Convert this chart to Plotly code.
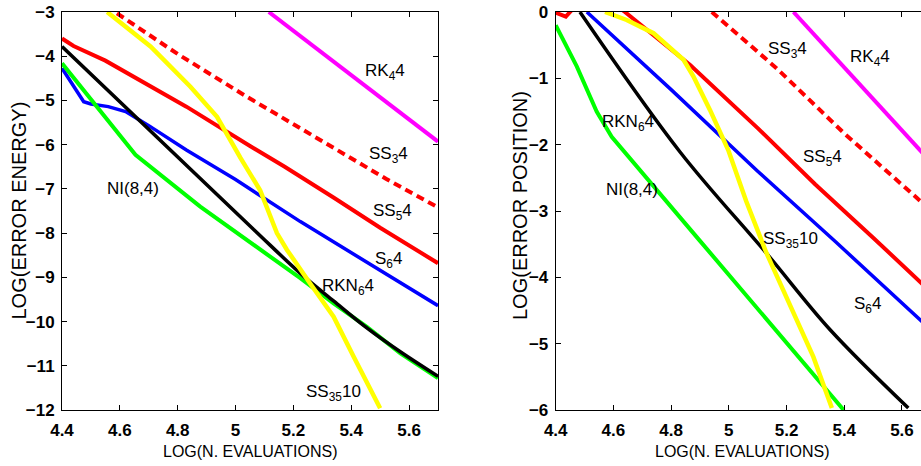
import plotly.graph_objects as go

# ---------------- data: left panel (energy error) ----------------
rk4_e_x = [5.115, 5.7]
rk4_e_y = [-3.0, -5.93]
ss3_e_x = [4.59, 4.8, 5.04, 5.3, 5.52, 5.7]
ss3_e_y = [-3.03, -3.95, -4.92, -5.93, -6.77, -7.42]
ss5_e_x = [4.4, 4.44, 4.55, 4.67, 4.83, 5.05, 5.17, 5.34, 5.5, 5.7]
ss5_e_y = [-3.6, -3.77, -4.1, -4.55, -5.14, -6.03, -6.5, -7.2, -7.88, -8.68]
s6_e_x = [4.4, 4.435, 4.475, 4.5, 4.56, 4.62, 4.7, 4.83, 5.0, 5.224, 5.454, 5.7]
s6_e_y = [-4.27, -4.61, -5.03, -5.08, -5.14, -5.25, -5.57, -6.12, -6.79, -7.74, -8.65, -9.64]
ni_e_x = [4.4, 4.654, 4.878, 4.97, 5.108, 5.224, 5.339, 5.454, 5.57, 5.7]
ni_e_y = [-4.16, -6.23, -7.4, -7.83, -8.46, -9.02, -9.59, -10.12, -10.72, -11.28]
rkn_e_x = [4.4, 5.06, 5.224, 5.34, 5.455, 5.571, 5.7]
rkn_e_y = [-3.78, -7.9, -8.91, -9.54, -10.15, -10.69, -11.24]
ss35_e_x = [4.556, 4.706, 4.844, 4.936, 5.017, 5.085, 5.143, 5.178, 5.258, 5.339, 5.409, 5.5]
ss35_e_y = [-3.0, -3.78, -4.69, -5.37, -6.3, -7.03, -8.0, -8.38, -9.14, -9.89, -10.8, -11.96]

# ---------------- data: right panel (position error) ----------------
rk4_p_x = [5.224, 5.7]
rk4_p_y = [0.0, -2.26]
ss3_p_x = [4.941, 5.166, 5.4, 5.7]
ss3_p_y = [0.0, -0.85, -1.83, -2.99]
ss5_p_x = [4.4, 4.435, 4.46, 4.55, 4.64, 4.866, 5.1, 5.3, 5.502, 5.7]
ss5_p_y = [-0.01, -0.07, 0.05, 0.3, 0.0, -0.8, -1.75, -2.6, -3.41, -4.22]
s6_p_x = [4.508, 4.8, 5.1, 5.369, 5.7]
s6_p_y = [0.0, -1.17, -2.4, -3.46, -4.79]
ni_p_x = [4.4, 4.473, 4.542, 4.594, 4.9, 5.108, 5.398]
ni_p_y = [-0.2, -0.82, -1.5, -1.88, -3.45, -4.52, -6.0]
rkn_p_x = [4.484, 4.831, 5.131, 5.351, 5.622]
rkn_p_y = [0.0, -2.11, -3.64, -4.79, -5.97]
ss35_p_x = [4.571, 4.646, 4.739, 4.843, 4.877, 4.935, 4.998, 5.06, 5.131, 5.212, 5.293, 5.357]
ss35_p_y = [0.0, -0.12, -0.32, -0.72, -0.97, -1.48, -2.08, -2.85, -3.64, -4.44, -5.2, -5.97]

# ---------------- labels ----------------
left_labels = ["RK<sub>4</sub>4", "SS<sub>3</sub>4", "SS<sub>5</sub>4", "NI(8,4)", "S<sub>6</sub>4", "RKN<sub>6</sub>4", "SS<sub>35</sub>10"]
left_lab_x = [5.518, 5.528, 5.542, 4.646, 5.528, 5.39, 5.338]
left_lab_y = [-4.36, -6.23, -7.52, -6.98, -8.61, -9.22, -11.62]
right_labels = ["SS<sub>3</sub>4", "RK<sub>4</sub>4", "RKN<sub>6</sub>4", "SS<sub>5</sub>4", "NI(8,4)", "SS<sub>35</sub>10", "S<sub>6</sub>4"]
right_lab_x = [5.205, 5.489, 4.651, 5.323, 4.664, 5.212, 5.482]
right_lab_y = [-0.57, -0.69, -1.67, -2.2, -2.68, -3.44, -4.42]

x_title = "LOG(N. EVALUATIONS)"
y_title_left = "LOG(ERROR ENERGY)"
y_title_right = "LOG(ERROR POSITION)"

FONT = "Liberation Sans, Arial, Helvetica, sans-serif"

fig = go.Figure()

def add(xs, ys, color, width, xa, ya, dash=None, shape="linear"):
    fig.add_trace(go.Scatter(x=xs, y=ys, mode="lines", xaxis=xa, yaxis=ya,
                             line=dict(color=color, width=width, dash=dash, shape=shape),
                             showlegend=False, hoverinfo="skip"))

for xa, ya, d in [("x", "y", [
        (rk4_e_x, rk4_e_y, "#FF00FF", 4, None, "linear"),
        (ss3_e_x, ss3_e_y, "#FF0000", 4, "8px,5px", "linear"),
        (ss5_e_x, ss5_e_y, "#FF0000", 4, None, "linear"),
        (s6_e_x, s6_e_y, "#0000FF", 3.5, None, "linear"),
        (ni_e_x, ni_e_y, "#00FF00", 4, None, "linear"),
        (rkn_e_x, rkn_e_y, "#000000", 3.5, None, "spline"),
        (ss35_e_x, ss35_e_y, "#FFFF00", 4.5, None, "linear")]),
    ("x2", "y2", [
        (rk4_p_x, rk4_p_y, "#FF00FF", 4, None, "linear"),
        (ss3_p_x, ss3_p_y, "#FF0000", 4, "8px,5px", "linear"),
        (ss5_p_x, ss5_p_y, "#FF0000", 4, None, "linear"),
        (s6_p_x, s6_p_y, "#0000FF", 3.5, None, "linear"),
        (ni_p_x, ni_p_y, "#00FF00", 4, None, "linear"),
        (rkn_p_x, rkn_p_y, "#000000", 3.5, None, "spline"),
        (ss35_p_x, ss35_p_y, "#FFFF00", 4.5, None, "linear")])]:
    for xs, ys, c, w, dsh, shp in d:
        add(xs, ys, c, w, xa, ya, dsh, shp)

annos = []
for t, x, y in zip(left_labels, left_lab_x, left_lab_y):
    annos.append(dict(text=t, x=x, y=y, xref="x", yref="y", showarrow=False,
                      xanchor="center", yanchor="middle",
                      font=dict(family=FONT, size=17, color="black")))
for t, x, y in zip(right_labels, right_lab_x, right_lab_y):
    annos.append(dict(text=t, x=x, y=y, xref="x2", yref="y2", showarrow=False,
                      xanchor="center", yanchor="middle",
                      font=dict(family=FONT, size=17, color="black")))

W, H = 921, 466
L, R, T, B = 62, 0, 12, 56
pw = W - L - R
ph = H - T - B
def px2paper_x(px):
    return (px - L) / pw
def py2paper_y(py):
    return (H - B - py) / ph

annos += [
    dict(text=x_title, x=px2paper_x(250), y=py2paper_y(452), xref="paper", yref="paper",
         xanchor="center", yanchor="middle",
         showarrow=False, font=dict(family=FONT, size=16, color="black")),
    dict(text=x_title, x=px2paper_x(742.5), y=py2paper_y(452), xref="paper", yref="paper",
         xanchor="center", yanchor="middle",
         showarrow=False, font=dict(family=FONT, size=16, color="black")),
    dict(text=y_title_left, x=px2paper_x(18), y=py2paper_y(210.5), xref="paper", yref="paper",
         xanchor="center", yanchor="middle",
         textangle=-90, showarrow=False, font=dict(family=FONT, size=20, color="black")),
    dict(text=y_title_right, x=px2paper_x(520), y=py2paper_y(206), xref="paper", yref="paper",
         xanchor="center", yanchor="middle",
         textangle=-90, showarrow=False, font=dict(family=FONT, size=20, color="black")),
]

tickfont = dict(family=FONT, size=17, color="black", weight="bold")
axcommon = dict(showgrid=False, zeroline=False, showline=True, linecolor="black", linewidth=1,
                ticks="inside", ticklen=5, tickwidth=1, tickcolor="black", tickfont=tickfont,
                automargin=False)

fig.update_layout(
    width=W, height=H, margin=dict(l=L, r=R, t=T, b=B, autoexpand=False),
    paper_bgcolor="white", plot_bgcolor="white",
    xaxis=dict(domain=[0, px2paper_x(438)], range=[4.4, 5.7], tick0=4.4, dtick=0.2,
               mirror="ticks", anchor="y", ticklabelstandoff=5, **axcommon),
    yaxis=dict(domain=[0, 1], range=[-12, -3], dtick=1, mirror="ticks", anchor="x",
               ticklabelstandoff=3, **axcommon),
    xaxis2=dict(domain=[px2paper_x(555.7), 1], range=[4.4, 5.666], tick0=4.4, dtick=0.2,
                mirror="ticks", anchor="y2", ticklabelstandoff=5, **axcommon),
    yaxis2=dict(domain=[0, 1], range=[-6, 0], dtick=1, mirror=False, anchor="x2",
                ticklabelstandoff=3, **axcommon),
    annotations=annos,
)

fig.write_html("out.html", config={"displayModeBar": False},
               post_script="document.body.style.margin='0';document.body.style.overflow='hidden';")
